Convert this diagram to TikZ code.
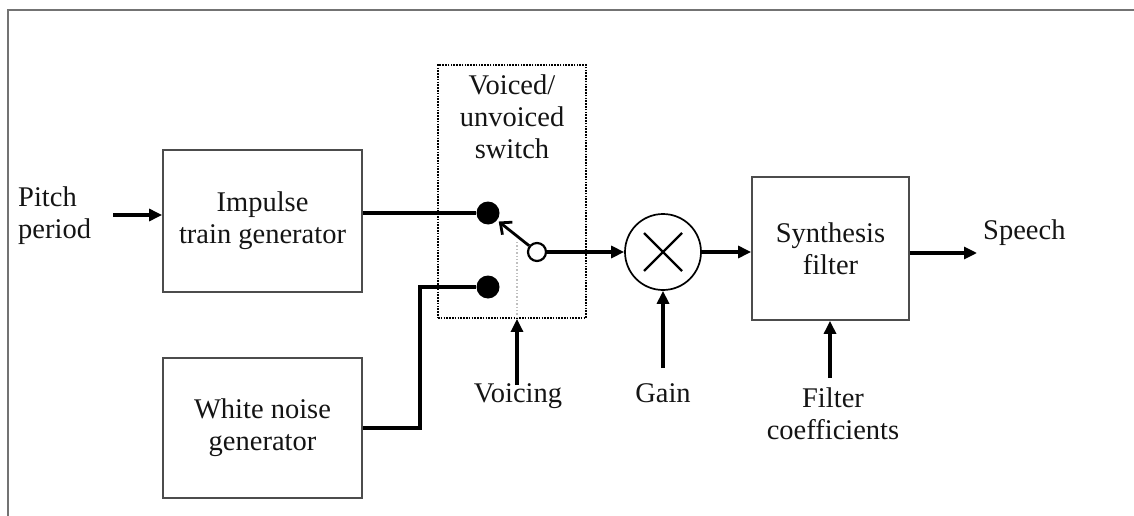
\documentclass[tikz,border=0pt]{standalone}
\usepackage{fontspec}
\setmainfont{Liberation Serif}
\usetikzlibrary{arrows.meta,calc}
\begin{document}
\begin{tikzpicture}[x=1pt,y=-1pt,
  txt/.style={font=\fontsize{28.5}{32}\selectfont, text=black!92, inner sep=0pt, align=center},
  blk/.style={draw=black!70, line width=1.8pt, fill=white, font=\fontsize{28.5}{32}\selectfont, text=black!92, align=center, inner sep=0pt},
  sig/.style={line width=3.1pt, -{Triangle[length=13pt,width=12pt]}},
  bus/.style={line width=4pt},
  dotn/.style={circle, fill=black, minimum size=23pt, inner sep=0pt},
  odot/.style={circle, draw=black, fill=white, line width=2.2pt, minimum size=18pt, inner sep=0pt}]
\useasboundingbox (0,0) rectangle (1134,516);
% frame
\draw[black!55, line width=1.8pt] (8,516) -- (8,10) -- (1134,10);

% blocks
\node[blk, minimum width=199pt, minimum height=142pt] (imp) at (262.5,221) {Impulse\\train generator};
\node[blk, minimum width=199pt, minimum height=140pt] (wn) at (262.5,428) {White noise\\generator};
\node[blk, minimum width=157pt, minimum height=143pt] (syn) at (830.5,248.5) {Synthesis\\filter};
\node[draw=black, line width=1.9pt, dash pattern=on 1.6pt off 1.2pt, minimum width=148pt, minimum height=253pt, inner sep=0pt] (sw) at (512,191.5) {};
\node[txt] (swl) at (512,117) {Voiced/\\unvoiced\\switch};

% labels
\node[txt, anchor=west, align=left] (pp) at (18,216) {Pitch\\period};
\node[txt, anchor=base west] (sp) at (983,239) {Speech};
\node[txt, anchor=base] (voi) at (518,402) {Voicing};
\node[txt, anchor=base] (gain) at (663,402) {Gain};
\node[txt] (fc) at (833,414) {Filter\\coefficients};

% coordinates for free ends
\coordinate (pin) at (113,215);
\coordinate (spo) at (977,253);
\coordinate (gin) at (663,368);
\coordinate (fin) at (830,378);
\coordinate (vin) at (517,385);
\coordinate (vtop) at (517,242);

% switch contacts
\node[dotn] (up) at (488,213) {};
\node[dotn] (lo) at (488,287) {};
\node[odot] (pv) at (537,252) {};
\draw[black!25, line width=1.4pt, dotted] (vtop) -- (vtop |- sw.south);
\draw[line width=2.8pt, -{Straight Barb[length=9pt,width=16pt]}, shorten >=2pt] (pv) -- (up);

% multiplier
\node[circle, draw=black, line width=1.7pt, minimum size=76pt, inner sep=0pt] (mult) at (663,252) {};
\draw[line width=2.4pt] ($(mult)+(-19,-19)$) -- ($(mult)+(19,19)$);
\draw[line width=2.4pt] ($(mult)+(-19,19)$) -- ($(mult)+(19,-19)$);

% connectors
\draw[sig] (pin) -- (pin -| imp.west);
\draw[bus] (imp.east |- up) -- (up);
\draw[bus] (wn.east) -- ++(57,0) |- (lo);
\draw[sig] (pv) -- (mult.west);
\draw[sig] (mult.east) -- (mult.east -| syn.west);
\draw[sig] (syn.east |- spo) -- (spo);
\draw[sig] (vin) -- (vin |- sw.south);
\draw[sig] (gin) -- (mult.south);
\draw[sig] (fin) -- (fin |- syn.south);
\end{tikzpicture}
\end{document}
